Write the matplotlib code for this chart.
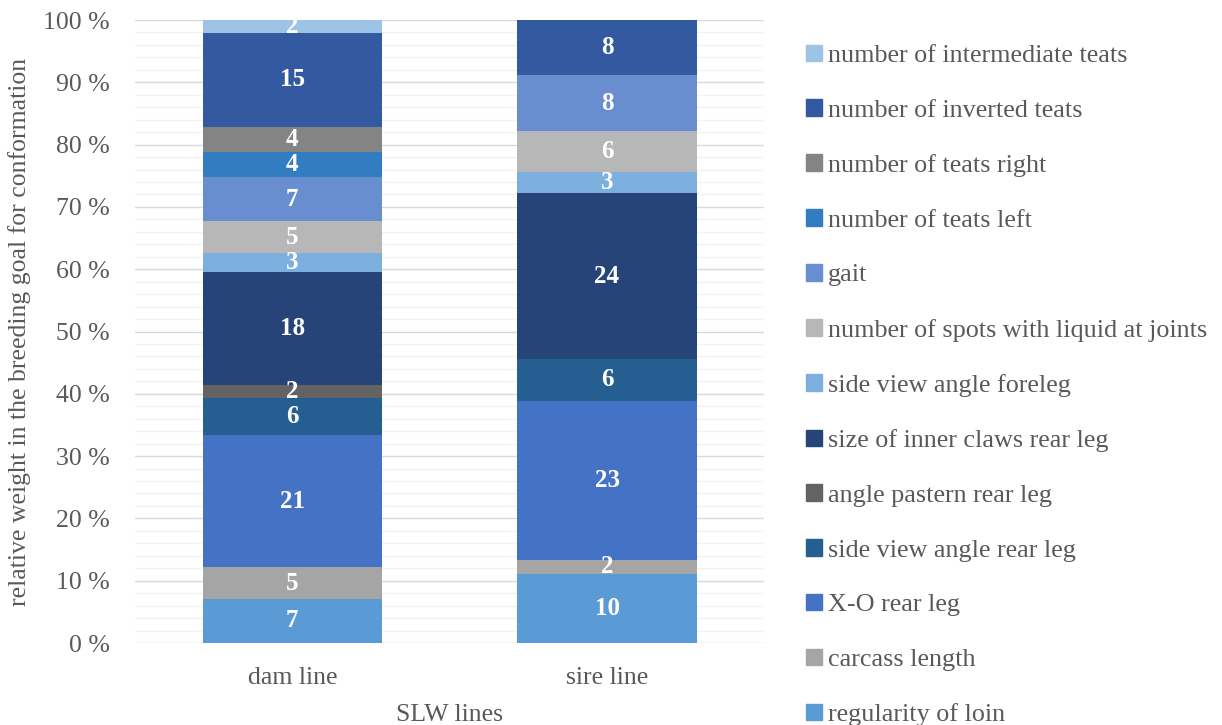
import matplotlib

matplotlib.use("Agg")
import matplotlib.pyplot as plt
import numpy as np
from matplotlib.patches import Patch
from matplotlib.ticker import MultipleLocator, FuncFormatter

plt.rcParams["font.family"] = ["Liberation Serif", "DejaVu Serif"]

lines = ["dam line", "sire line"]
traits = [
    "regularity of loin", "carcass length", "X-O rear leg",
    "side view angle rear leg", "angle pastern rear leg",
    "size of inner claws rear leg", "side view angle foreleg",
    "number of spots with liquid at joints", "gait",
    "number of teats left", "number of teats right",
    "number of inverted teats", "number of intermediate teats",
]
dam = [7, 5, 21, 6, 2, 18, 3, 5, 7, 4, 4, 15, 2]
sire = [10, 2, 23, 6, 0, 24, 3, 6, 8, 0, 0, 8, 0]
colors = [
    "#5B9BD5", "#A5A5A5", "#4472C4", "#255E91", "#636363", "#264478",
    "#7CAFDD", "#B7B7B7", "#698ED0", "#327DC2", "#848484", "#335AA1",
    "#9DC3E6",
]

grey = "#595959"
fig = plt.figure(figsize=(12.22, 7.25), dpi=100)
ax = fig.add_axes([0.1105, 0.1131, 0.515, 0.8593])

vals = np.array([dam, sire], dtype=float)
pct = vals / vals.sum(axis=1, keepdims=True) * 100
x = np.arange(len(lines))
bottom = np.zeros(len(lines))
for i, t in enumerate(traits):
    h = pct[:, i]
    ax.bar(x, h, bottom=bottom, width=0.57, color=colors[i], zorder=3, label=t)
    for j in range(len(lines)):
        if vals[j, i] > 0:
            ax.text(x[j], bottom[j] + h[j] / 2, f"{int(vals[j, i])}", ha="center",
                    va="center", color="white", fontsize=18, fontweight="bold",
                    zorder=4)
    bottom += h

ax.set_xlim(-0.5, 1.5)
ax.set_ylim(0, 100)
ax.yaxis.set_major_locator(MultipleLocator(10))
ax.yaxis.set_minor_locator(MultipleLocator(2))
ax.yaxis.set_major_formatter(FuncFormatter(lambda v, _: f"{int(v)} %"))
ax.grid(axis="y", which="major", color="#D9D9D9", lw=1.0, zorder=0)
ax.grid(axis="y", which="minor", color="#F2F2F2", lw=1.0, zorder=0)
for s in ax.spines.values():
    s.set_visible(False)
ax.tick_params(axis="both", which="both", length=0, labelsize=18.5, colors=grey)
ax.tick_params(axis="y", pad=18)
ax.tick_params(axis="x", pad=17)
ax.set_xticks(x)
ax.set_xticklabels(lines)
ax.set_xlabel("SLW lines", fontsize=18.5, color=grey, labelpad=11)
ax.set_ylabel("relative weight in the breeding goal for conformation",
              fontsize=18.5, color=grey, labelpad=9)

handles = [Patch(color=colors[i], label=traits[i]) for i in range(len(traits))][::-1]
fig.legend(handles=handles, loc="upper left", bbox_to_anchor=(0.651, 0.953),
           frameon=False, fontsize=18.8, labelcolor=grey, labelspacing=1.235,
           handlelength=0.6, handleheight=0.6, handletextpad=0.25,
           borderaxespad=0)

fig.savefig("out.png", dpi=100)
